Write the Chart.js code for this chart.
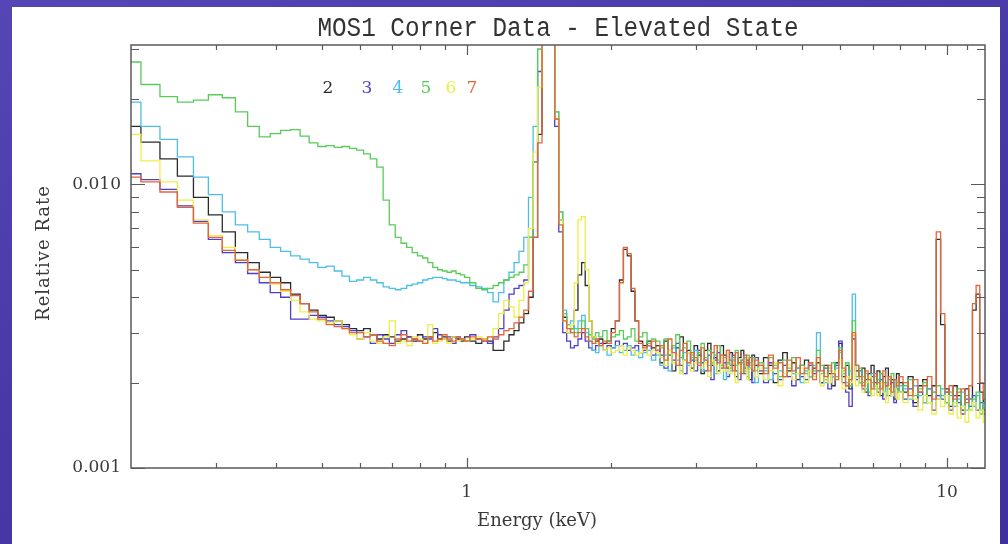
<!DOCTYPE html>
<html>
<head>
<meta charset="utf-8">
<script src="https://cdn.jsdelivr.net/npm/chart.js@4.4.1/dist/chart.umd.min.js"></script>
<style>
  html, body { margin: 0; padding: 0; }
  body {
    width: 1008px; height: 544px; overflow: hidden; position: relative;
    background: linear-gradient(160deg, #5546b6 0%, #4838a8 45%, #3f2f9f 100%);
  }
  #panel { position: absolute; left: 12px; top: 7px; width: 988px; height: 537px; background: #fff; }
  #wrap { position: absolute; left: 0; top: 0; width: 1008px; height: 544px; }
</style>
</head>
<body>
<div id="panel"></div>
<div id="wrap"><canvas id="spec"></canvas></div>
<script>
// Energy bins (keV)
const energy = [
  0.20, 0.22, 0.24, 0.26, 0.28, 0.30, 0.32, 0.34, 0.36, 0.38,
  0.40, 0.42, 0.44, 0.46, 0.48, 0.50, 0.52, 0.54, 0.56, 0.58,
  0.60, 0.62, 0.64, 0.66, 0.68, 0.70, 0.72, 0.74, 0.76, 0.78,
  0.80, 0.82, 0.84, 0.86, 0.88, 0.90, 0.92, 0.94, 0.96, 0.98,
  1.00, 1.03, 1.06, 1.09, 1.12, 1.15, 1.18, 1.21, 1.24, 1.27,
  1.30, 1.33, 1.36, 1.39, 1.42, 1.45, 1.48, 1.51, 1.54, 1.57,
  1.60, 1.63, 1.66, 1.69, 1.72, 1.75, 1.78, 1.81, 1.84, 1.87,
  1.90, 1.94, 1.98, 2.02, 2.06, 2.10, 2.14, 2.18, 2.22, 2.26,
  2.30, 2.35, 2.40, 2.45, 2.50,
  2.55, 2.60, 2.65, 2.70, 2.75, 2.80, 2.85, 2.90, 2.95, 3.00,
  3.05, 3.10, 3.15, 3.20, 3.25, 3.30, 3.35, 3.40, 3.45, 3.50,
  3.55, 3.60, 3.65, 3.70, 3.75, 3.80, 3.85, 3.90, 3.95, 4.00,
  4.1, 4.2, 4.3, 4.4, 4.5, 4.6, 4.7, 4.8, 4.9, 5.0,
  5.1, 5.2, 5.3, 5.4, 5.5, 5.6, 5.7, 5.8, 5.9, 6.0,
  6.1, 6.2, 6.3, 6.4, 6.5, 6.6, 6.7, 6.8, 6.9, 7.0,
  7.1, 7.2, 7.3, 7.4, 7.5, 7.6, 7.7, 7.8, 7.9, 8.0,
  8.2, 8.4, 8.6, 8.8, 9.0, 9.2, 9.4, 9.6, 9.8, 10.0,
  10.2, 10.4, 10.6, 10.8, 11.0, 11.2, 11.4, 11.6, 11.8, 12.0
];

// Relative rate per CCD, in units of 0.001
const ccd2 = [
  16, 14.1, 12.3, 10.7, 9.0, 7.8, 6.8, 5.75, 5.3, 4.9,
  4.7, 4.5, 4.1, 3.8, 3.6, 3.45, 3.4, 3.3, 3.2, 3.1,
  3.05, 3.1, 2.95, 2.85, 2.95, 2.9, 2.8, 2.85, 2.9, 2.8,
  2.95, 2.85, 2.9, 3.0, 2.85, 2.9, 2.8, 2.9, 2.85, 2.8,
  2.9, 2.8, 2.75, 2.85, 2.8, 2.6, 2.6, 2.8, 2.95, 3.05,
  3.25, 3.5, 4.0, 6.5, 15, 60, 60, 60, 17, 7.5,
  3.4, 3.0, 3.1, 3.6, 4.8, 5.3, 4.4, 3.3, 2.9, 2.8,
  2.85, 2.75, 2.8, 3.1, 3.3, 4.6, 5.9, 5.6, 4.2, 3.3,
  2.8, 2.7, 2.8, 2.65, 2.7,
  2.35, 2.8, 2.5, 2.2, 2.65, 2.9, 2.4, 2.6, 2.25, 2.7,
  2.5, 2.15, 2.6, 2.75, 2.3, 2.45, 2.2, 2.7, 2.5, 2.25,
  2.55, 2.3, 2.1, 2.45, 2.6, 2.25, 2.4, 2.05, 2.5, 2.3,
  2.15, 2.45, 2.3, 2.0, 2.4, 2.55, 2.2, 2.35, 2.05, 2.3,
  2.4, 2.1, 2.25, 2.35, 2.0, 2.3, 2.15, 1.95, 2.35, 2.75,
  2.1, 2.3, 1.9, 2.95, 2.2, 2.0, 2.25, 1.85, 2.15, 2.3,
  1.95, 2.2, 1.8, 2.1, 2.25, 1.9, 2.05, 1.75, 2.15, 2.0,
  1.85, 2.1, 1.7, 1.95, 2.05, 1.8, 1.95, 6.4, 3.2, 1.9,
  1.65, 1.95, 1.8, 1.6, 1.9, 1.75, 3.6, 4.1, 1.85, 1.6
];
const ccd3 = [
  10.9, 10.4, 9.6, 8.4, 7.4, 6.4, 5.75, 5.3, 4.85, 4.5,
  4.15, 4.0, 3.35, 3.35, 3.45, 3.4, 3.3, 3.2, 3.15, 3.05,
  2.85, 2.9, 2.75, 2.95, 2.85, 2.75, 2.95, 3.05, 2.9, 2.85,
  2.8, 2.9, 2.85, 3.1, 2.95, 2.85, 2.9, 2.75, 2.9, 2.85,
  2.8, 2.95, 2.85, 2.8, 2.75, 2.9, 3.1, 3.6, 4.1, 4.3,
  4.4, 4.6, 6.5, 12, 25, 60, 60, 60, 16, 6.8,
  3.0, 2.8, 2.65, 2.7, 2.85, 3.0, 2.8, 2.65, 2.6, 2.7,
  2.75, 2.6, 2.7, 2.65, 2.8, 2.7, 2.75, 2.6, 2.65, 2.7,
  2.55, 2.6, 2.7, 2.5, 2.6,
  2.5, 2.25, 2.6, 2.4, 2.75, 2.3, 2.15, 2.55, 2.4, 2.2,
  2.6, 2.35, 2.2, 2.5, 2.05, 2.4, 2.55, 2.25, 2.35, 2.1,
  2.3, 2.5, 2.2, 2.05, 2.4, 2.15, 2.35, 2.25, 2.0, 2.45,
  2.2, 2.0, 2.35, 2.15, 2.05, 2.3, 2.1, 1.95, 2.25, 2.1,
  2.05, 2.3, 2.15, 2.2, 2.0, 2.25, 1.9, 2.1, 2.3, 2.8,
  2.0, 1.85, 1.65, 2.85, 2.05, 2.2, 1.9, 2.05, 1.8, 2.1,
  2.0, 1.85, 2.05, 1.75, 1.95, 1.8, 2.0, 1.7, 1.9, 1.85,
  1.75, 1.9, 1.65, 1.85, 1.7, 1.9, 1.6, 1.8, 1.75, 1.85,
  1.6, 1.8, 1.7, 1.55, 1.75, 1.65, 1.8, 1.6, 1.7, 1.55
];
const ccd4 = [
  19.5, 16, 14.4, 12.5, 10.6, 9.2, 8.0, 7.2, 6.8, 6.4,
  6.0, 5.8, 5.6, 5.45, 5.3, 5.1, 5.15, 4.95, 4.75, 4.55,
  4.6, 4.7, 4.6, 4.5, 4.35, 4.3, 4.25, 4.3, 4.4, 4.45,
  4.5, 4.6, 4.65, 4.7, 4.7, 4.65, 4.6, 4.6, 4.55, 4.5,
  4.5, 4.4, 4.35, 4.3, 4.15, 3.85, 4.15, 4.6, 4.9, 5.3,
  5.8, 6.5, 9, 16, 30, 60, 60, 60, 18, 8,
  3.6, 3.2, 3.3, 3.1, 3.3, 3.45, 3.0, 2.8, 2.6, 2.55,
  2.7, 2.6, 2.5, 2.65, 2.7, 2.55, 2.6, 2.7, 2.5, 2.6,
  2.45, 2.55, 2.6, 2.4, 2.5,
  2.3, 2.5, 2.2, 2.65, 2.4, 2.2, 2.55, 2.3, 2.45, 2.6,
  2.35, 2.2, 2.45, 2.3, 2.55, 2.15, 2.4, 2.3, 2.05, 2.35,
  2.2, 2.4, 2.3, 2.15, 2.35, 2.45, 2.1, 2.3, 2.2, 2.0,
  2.3, 2.2, 2.05, 2.35, 2.2, 2.1, 2.3, 2.15, 2.25, 2.0,
  2.2, 2.1, 2.3, 3.0, 2.15, 2.0, 2.2, 2.1, 2.25, 2.55,
  2.15, 2.0, 2.2, 4.1, 2.3, 2.0, 2.1, 1.9, 2.05, 2.15,
  1.9, 2.05, 2.15, 1.85, 2.0, 1.9, 1.8, 2.05, 1.85, 1.95,
  1.9, 1.75, 1.95, 1.8, 1.7, 1.9, 1.85, 1.75, 1.9, 1.7,
  1.8, 1.65, 1.75, 1.85, 1.6, 1.75, 1.65, 1.8, 1.6, 1.7
];
const ccd5 = [
  27, 22.5, 20.4, 19.5, 19.8, 20.7, 20.2, 18.0, 16.0, 14.7,
  15.1, 15.5, 15.6, 14.8, 14.0, 13.6, 13.7, 13.5, 13.6, 13.4,
  13.2, 12.8, 12.3, 11.5, 8.8, 7.2, 6.5, 6.2, 6.0, 5.75,
  5.6, 5.5, 5.3, 5.1, 5.0, 4.95, 4.9, 4.95, 4.85, 4.8,
  4.7, 4.5, 4.3, 4.25, 4.3, 4.4, 4.5, 4.6, 4.7, 4.8,
  4.9, 5.2, 6.5, 12, 30, 60, 60, 60, 18, 8,
  3.5, 3.2, 3.1, 3.0, 3.1, 3.3, 3.1, 2.95, 2.85, 3.0,
  2.9, 3.05, 2.8, 2.9, 2.95, 3.05, 2.85, 2.9, 3.1, 2.8,
  2.9, 3.0, 2.75, 2.85, 2.8,
  2.65, 2.85, 2.5, 2.7, 2.95, 2.45, 2.65, 2.8, 2.5, 2.4,
  2.55, 2.75, 2.4, 2.6, 2.35, 2.5, 2.7, 2.3, 2.45, 2.6,
  2.25, 2.45, 2.6, 2.3, 2.4, 2.2, 2.5, 2.35, 2.45, 2.2,
  2.35, 2.25, 2.45, 2.3, 2.1, 2.4, 2.25, 2.45, 2.15, 2.3,
  2.15, 2.35, 2.2, 2.6, 2.3, 2.05, 2.25, 2.35, 2.1, 2.65,
  2.2, 2.35, 1.95, 3.3, 2.1, 2.25, 2.0, 2.15, 1.85, 2.0,
  2.1, 1.9, 2.15, 2.0, 1.8, 2.05, 2.15, 1.9, 2.0, 1.85,
  1.95, 2.05, 1.8, 1.9, 2.0, 1.7, 1.85, 1.95, 1.8, 1.7,
  1.85, 1.7, 1.9, 1.65, 1.8, 1.6, 1.75, 1.85, 1.55, 1.7
];
const ccd6 = [
  15, 12.1, 10.2, 8.8, 7.5, 6.6, 6.0, 5.4, 5.0, 4.7,
  4.45, 4.2, 3.9, 3.55, 3.35, 3.3, 3.25, 3.3, 3.1, 2.95,
  2.85, 3.0, 2.8, 2.75, 2.9, 3.3, 2.75, 2.8, 2.7, 2.9,
  2.85, 2.75, 3.2, 2.75, 2.8, 2.85, 2.75, 2.9, 2.8, 2.85,
  2.8, 2.85, 2.9, 2.85, 2.9, 3.1, 3.5, 3.9, 3.7, 3.4,
  3.9, 4.5, 7, 13, 22, 60, 60, 60, 17, 7.5,
  3.3, 3.0, 3.2, 4.5, 7.5, 7.7, 5.0, 3.3, 2.9, 2.75,
  2.7, 2.6, 2.65, 2.55, 2.6, 2.7, 2.5, 2.65, 2.6, 2.5,
  2.55, 2.65, 2.5, 2.6, 2.55,
  2.45, 2.3, 2.6, 2.35, 2.5, 2.15, 2.4, 2.55, 2.2, 2.35,
  2.45, 2.25, 2.35, 2.1, 2.4, 2.3, 2.15, 2.45, 2.2, 2.3,
  2.15, 2.35, 2.0, 2.3, 2.2, 2.4, 2.05, 2.25, 2.35, 2.1,
  2.25, 2.05, 2.2, 2.35, 1.95, 2.15, 2.3, 2.05, 2.15, 2.25,
  2.0, 2.2, 2.1, 2.45, 1.95, 2.15, 2.0, 2.2, 2.05, 2.4,
  1.9, 2.1, 2.0, 2.95, 1.95, 2.1, 1.85, 2.0, 2.1, 1.8,
  1.95, 1.8, 2.0, 1.85, 1.7, 1.95, 1.8, 1.9, 1.75, 1.85,
  1.7, 1.85, 1.75, 1.6, 1.8, 1.7, 1.55, 1.75, 1.65, 1.8,
  1.55, 1.7, 1.5, 1.65, 1.45, 1.6, 1.7, 1.5, 1.6, 1.45
];
const ccd7 = [
  10.6, 10.2, 9.4, 8.3, 7.3, 6.5, 5.85, 5.4, 5.0, 4.7,
  4.5, 4.25, 4.05, 3.8, 3.55, 3.35, 3.2, 3.15, 3.1, 3.0,
  3.0, 2.9, 2.95, 2.8, 2.75, 2.7, 2.85, 2.95, 2.8, 2.85,
  2.8, 2.75, 2.9, 2.8, 2.85, 2.95, 2.85, 2.8, 2.9, 2.85,
  2.8, 2.9, 2.85, 2.8, 2.9, 2.85, 2.95, 3.05, 3.1, 3.25,
  3.4, 3.6, 4.2, 6.5, 14, 60, 60, 60, 17, 7.2,
  3.3, 3.1, 3.0, 2.9, 3.0, 3.1, 2.9, 2.8, 2.75, 2.85,
  2.7, 2.8, 2.75, 3.0, 3.3, 4.5, 6.0, 5.7, 4.3, 3.3,
  2.75, 2.65, 2.7, 2.8, 2.6,
  2.7, 2.4, 2.85, 2.55, 2.3, 2.6, 2.75, 2.35, 2.55, 2.45,
  2.3, 2.65, 2.4, 2.2, 2.55, 2.7, 2.35, 2.5, 2.25, 2.6,
  2.4, 2.2, 2.55, 2.35, 2.15, 2.5, 2.3, 2.45, 2.2, 2.4,
  2.3, 2.15, 2.5, 2.25, 2.35, 2.1, 2.4, 2.2, 2.45, 2.15,
  2.25, 2.35, 2.05, 2.45, 2.2, 2.1, 2.3, 2.15, 2.05, 2.6,
  2.25, 1.95, 2.05, 3.0, 2.3, 2.1, 1.95, 2.2, 2.05, 1.9,
  2.15, 2.0, 1.9, 2.2, 1.95, 2.1, 1.85, 2.05, 1.95, 2.1,
  2.0, 1.8, 2.05, 1.85, 1.95, 2.1, 1.75, 6.8, 3.5, 1.85,
  1.95, 1.75, 1.85, 1.9, 1.7, 1.95, 3.8, 4.4, 2.0, 1.75
];

const seriesNames = ['2', '3', '4', '5', '6', '7'];
const seriesValues = [ccd2, ccd3, ccd4, ccd5, ccd6, ccd7];
const seriesColors = ['#2b2b2b', '#4e3fc8', '#4cbfe4', '#58cc58', '#eeee48', '#e2663a'];

// Axis ticks (y in units of 0.001)
const xTicks = [1, 10];
const xTickLabels = ['1', '10'];
const xMinorTicks = [0.3, 0.4, 0.5, 0.6, 0.7, 0.8, 0.9, 2, 3, 4, 5, 6, 7, 8, 9, 11];
const yTicks = [1, 10];
const yTickLabels = ['0.001', '0.010'];
const yMinorTicks = [2, 3, 4, 5, 6, 7, 8, 9, 20, 30];

const titleText = 'MOS1 Corner Data - Elevated State';
const xTitle = 'Energy (keV)';
const yTitle = 'Relative Rate';

// Frame, inward ticks, labels and the number legend
const decorations = {
    id: 'decorations',
    afterDatasetsDraw(chart) {
        const ctx = chart.ctx;
        const a = chart.chartArea;
        const x = chart.scales.x;
        const y = chart.scales.y;
        ctx.save();
        ctx.strokeStyle = '#5a5a5a';
        ctx.lineWidth = 1.5;
        ctx.strokeRect(a.left, a.top, a.right - a.left, a.bottom - a.top);

        ctx.lineWidth = 1.2;
        const tickX = (v, len) => {
            const px = Math.round(x.getPixelForValue(v)) + 0.5;
            ctx.beginPath();
            ctx.moveTo(px, a.bottom); ctx.lineTo(px, a.bottom - len);
            ctx.moveTo(px, a.top); ctx.lineTo(px, a.top + len);
            ctx.stroke();
        };
        const tickY = (v, len) => {
            const py = Math.round(y.getPixelForValue(v)) + 0.5;
            ctx.beginPath();
            ctx.moveTo(a.left, py); ctx.lineTo(a.left + len, py);
            ctx.moveTo(a.right, py); ctx.lineTo(a.right - len, py);
            ctx.stroke();
        };
        xMinorTicks.forEach(v => tickX(v, 5));
        xTicks.forEach(v => tickX(v, 10));
        yMinorTicks.forEach(v => tickY(v, 8));
        yTicks.forEach(v => tickY(v, 14));

        ctx.fillStyle = '#3a3a3a';
        ctx.font = '17px "DejaVu Serif"';
        ctx.textBaseline = 'middle';
        ctx.textAlign = 'center';
        xTicks.forEach((v, i) => ctx.fillText(xTickLabels[i], x.getPixelForValue(v), 493));
        ctx.textAlign = 'right';
        yTicks.forEach((v, i) => ctx.fillText(yTickLabels[i], 121, y.getPixelForValue(v)));

        ctx.textAlign = 'center';
        ctx.font = '18px "DejaVu Serif"';
        ctx.fillText(xTitle, 537, 521);
        ctx.save();
        ctx.translate(44, 253);
        ctx.rotate(-Math.PI / 2);
        ctx.letterSpacing = '1px';
        ctx.fillText(yTitle, 0, 0);
        ctx.restore();

        // title: monospace, squeezed a little horizontally
        ctx.save();
        ctx.font = '27px "Liberation Mono"';
        ctx.textBaseline = 'alphabetic';
        ctx.fillStyle = '#333';
        ctx.translate(558, 36);
        ctx.scale(0.9, 1);
        ctx.fillText(titleText, 0, 0);
        ctx.restore();

        // legend numbers
        const legendX = [328, 367, 398, 426, 451, 472];
        ctx.font = '17px "DejaVu Serif"';
        ctx.textBaseline = 'middle';
        seriesNames.forEach((n, i) => {
            ctx.fillStyle = seriesColors[i];
            ctx.fillText(n, legendX[i], 89);
        });
        ctx.restore();
    }
};

const datasets = seriesNames.map((name, i) => ({
    label: name,
    data: energy.map((e, k) => ({ x: e, y: seriesValues[i][k] })),
    borderColor: seriesColors[i],
    borderWidth: 1.3,
    pointRadius: 0,
    stepped: 'middle',
    fill: false,
    order: 5 - i
}));

new Chart(document.getElementById('spec'), {
    type: 'line',
    data: { datasets: datasets },
    options: {
        responsive: true,
        maintainAspectRatio: false,
        animation: false,
        layout: { padding: { left: 131, right: 23, top: 45, bottom: 76 } },
        plugins: { legend: { display: false }, tooltip: { enabled: false } },
        scales: {
            x: { type: 'logarithmic', min: 0.2, max: 12, display: false },
            y: { type: 'logarithmic', min: 1, max: 31, display: false }
        }
    },
    plugins: [decorations]
});
</script>
</body>
</html>
